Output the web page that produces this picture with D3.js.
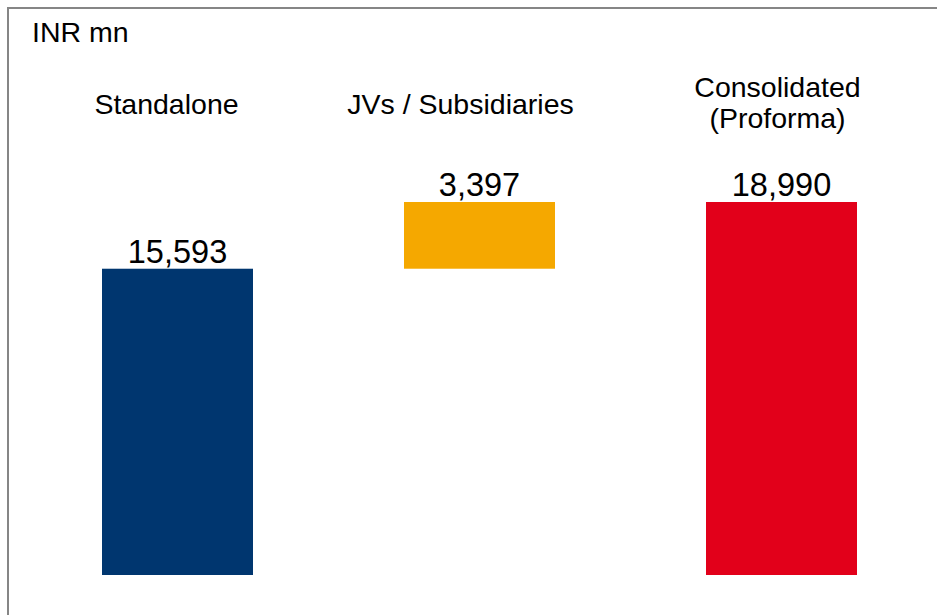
<!DOCTYPE html>
<html>
<head>
<meta charset="utf-8">
<script src="https://cdn.jsdelivr.net/npm/d3@7"></script>
<style>
  html, body { margin: 0; padding: 0; background: #fff; }
  svg { display: block; font-family: 'Liberation Sans', Arial, sans-serif; }
</style>
</head>
<body>
<div id="chart"></div>
<script>
const categories = ['Standalone', 'JVs / Subsidiaries', 'Consolidated (Proforma)'];
const labelLines = [['Standalone'], ['JVs / Subsidiaries'], ['Consolidated', '(Proforma)']];
const values = [15593, 3397, 18990];
const valueLabels = ['15,593', '3,397', '18,990'];
const kinds = ['total', 'step', 'total'];
const unitLabel = 'INR mn';

const width = 937;
const height = 615;

const colors = {
  'Standalone': '#00366F',
  'JVs / Subsidiaries': '#F5A800',
  'Consolidated (Proforma)': '#E2001A',
};

// build waterfall start/end from the values
let running = 0;
const bars = categories.map((c, i) => {
  const start = kinds[i] === 'total' ? 0 : running;
  const end = kinds[i] === 'total' ? values[i] : running + values[i];
  running = end;
  return { name: c, lines: labelLines[i], start, end, label: valueLabels[i] };
});

const svg = d3.select('#chart').append('svg')
  .attr('width', width)
  .attr('height', height);

// frame (only top and left edges visible)
svg.append('path')
  .attr('d', `M8,${height} L8,8 L${width},8`)
  .attr('fill', 'none')
  .attr('stroke', '#868686')
  .attr('stroke-width', 2);

const x = d3.scaleBand()
  .domain(categories)
  .range([26.5, 932.5])
  .paddingInner(0.5)
  .paddingOuter(0.25);

const y = d3.scaleLinear()
  .domain([0, 18990])
  .range([575, 202]);

svg.append('text')
  .attr('x', 32)
  .attr('y', 42)
  .style('font-size', '28.5px')
  .style('fill', '#000')
  .text(unitLabel);

svg.selectAll('.bar')
  .data(bars)
  .enter().append('rect')
  .attr('class', 'bar')
  .attr('x', d => x(d.name))
  .attr('y', d => y(d.end))
  .attr('width', x.bandwidth())
  .attr('height', d => y(d.start) - y(d.end))
  .style('fill', d => colors[d.name]);

svg.selectAll('.value')
  .data(bars)
  .enter().append('text')
  .attr('class', 'value')
  .attr('x', d => x(d.name) + x.bandwidth() / 2)
  .attr('y', d => y(d.end) - 6)
  .style('font-size', '32.5px')
  .style('text-anchor', 'middle')
  .style('fill', '#000')
  .text(d => d.label);

// category headers sit a little left of the bar centres
const labelDx = [-11, -19, -4];
const labelBase = [114, 114, 97];

svg.selectAll('.label')
  .data(bars)
  .enter().append('text')
  .attr('class', 'label')
  .style('font-size', '28.5px')
  .style('text-anchor', 'middle')
  .style('fill', '#000')
  .each(function (d, i) {
    const cx = x(d.name) + x.bandwidth() / 2 + labelDx[i];
    d3.select(this).selectAll('tspan')
      .data(d.lines)
      .enter().append('tspan')
      .attr('x', cx)
      .attr('y', (l, j) => labelBase[i] + j * 31)
      .text(l => l);
  });
</script>
</body>
</html>
